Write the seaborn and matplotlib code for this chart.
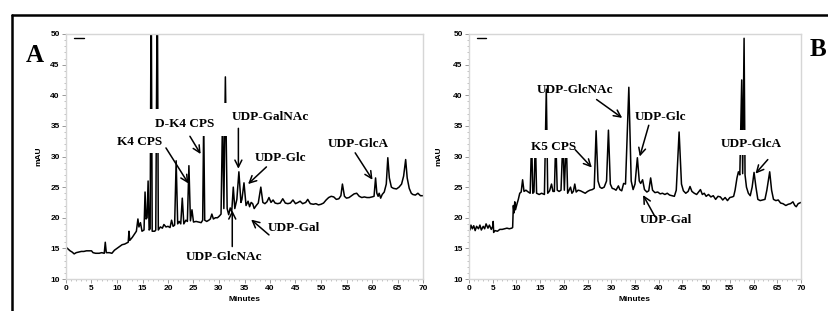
import matplotlib
matplotlib.use("Agg")
import matplotlib.pyplot as plt
from matplotlib.lines import Line2D
from matplotlib.patches import Rectangle
from matplotlib.ticker import MultipleLocator
import seaborn as sns
import pandas as pd

# ---------------- data ----------------
time_a = [0, 0.4, 0.8, 1.2, 1.6, 2.0, 2.5, 3.0, 3.5, 4.0, 4.5, 5.0, 5.3, 5.8, 6.5, 7.0, 7.5, 7.7, 7.9, 8.5,
          9.0, 9.5, 10.0, 10.5, 11.0, 11.5, 12.0, 12.2, 12.35, 12.5, 13.0, 13.4, 13.8, 14.1, 14.3, 14.6, 14.9, 15.3, 15.5, 15.7,
          15.9, 16.1, 16.3, 16.5, 16.7, 16.9, 17.4, 17.6, 17.9, 18.1, 18.5, 18.9, 19.2, 19.6, 20.0, 20.4, 20.7, 21.0, 21.3, 21.6,
          21.9, 22.2, 22.5, 22.8, 23.1, 23.5, 23.8, 24.1, 24.4, 24.7, 25.0, 25.5, 26.0, 26.5, 26.8, 27.0, 27.2, 27.6, 28.0, 28.3,
          28.6, 28.9, 29.3, 29.7, 30.1, 30.4, 30.7, 30.95, 31.25, 31.6, 31.9, 32.2, 32.5, 32.8, 33.1, 33.5, 33.9, 34.3, 34.5, 34.9,
          35.3, 35.7, 36.0, 36.3, 36.6, 36.9, 37.3, 37.7, 38.2, 38.6, 39.0, 39.4, 39.8, 40.2, 40.6, 41.0, 41.5, 42.0, 42.5, 43.0,
          43.5, 44.0, 44.5, 45.0, 45.5, 45.9, 46.4, 47.0, 47.4, 47.9, 48.5, 49.0, 49.5, 50.0, 50.5, 51.0, 51.5, 52.0, 52.5, 53.0,
          53.5, 53.9, 54.2, 54.6, 55.0, 55.5, 56.0, 56.5, 57.0, 57.5, 58.0, 58.5, 59.0, 59.5, 60.0, 60.4, 60.7, 60.95, 61.2, 61.4,
          61.7, 62.0, 62.4, 62.8, 63.1, 63.4, 63.8, 64.2, 64.8, 65.3, 65.8, 66.2, 66.6, 66.9, 67.3, 67.7, 68.0, 68.5, 69.0, 69.5, 70.0]
mau_a = [15.2, 14.9, 14.6, 14.4, 14.1, 14.3, 14.4, 14.5, 14.5, 14.6, 14.6, 14.6, 14.3, 14.2, 14.2, 14.3, 14.2, 16.0, 14.3, 14.3,
         14.2, 14.7, 15.0, 15.3, 15.6, 15.7, 15.9, 16.0, 17.8, 16.3, 16.8, 17.3, 17.8, 19.8, 18.5, 19.2, 17.8, 18.0, 24.2, 19.8,
         20.0, 26.0, 18.0, 18.2, 60.0, 17.8, 17.8, 18.0, 60.0, 18.0, 18.5, 18.3, 18.9, 18.5, 18.6, 18.4, 19.6, 18.6, 18.8, 29.3,
         19.0, 19.4, 19.0, 23.2, 19.0, 19.6, 19.4, 28.5, 19.5, 21.3, 19.3, 19.4, 19.3, 19.2, 19.6, 36.0, 19.6, 19.4, 19.6, 19.8,
         20.6, 19.8, 20.0, 20.0, 20.3, 20.6, 37.0, 21.5, 43.0, 21.5, 20.5, 21.6, 21.0, 25.0, 21.5, 23.0, 27.5, 22.5, 23.0, 25.7,
         22.0, 22.7, 21.8, 22.5, 22.3, 21.5, 22.0, 22.4, 25.0, 22.5, 22.3, 22.6, 23.3, 22.5, 22.9, 22.4, 22.3, 22.4, 23.1, 22.4,
         22.3, 22.4, 22.9, 22.3, 22.5, 22.7, 22.3, 22.5, 23.0, 22.3, 22.2, 22.3, 22.1, 22.2, 22.4, 22.9, 23.3, 23.5, 23.4, 23.0,
         23.1, 23.6, 25.5, 23.5, 23.2, 23.3, 23.6, 23.9, 24.0, 23.5, 23.3, 23.4, 23.3, 23.3, 23.4, 23.5, 26.5, 24.0, 23.5, 24.0,
         23.2, 23.8, 24.2, 25.5, 29.8, 26.5, 25.0, 24.8, 24.7, 25.0, 25.5, 26.8, 29.5, 26.5, 24.8, 24.0, 23.8, 23.7, 24.0, 23.6, 23.6]

time_b = [0, 0.2, 0.4, 0.7, 1.0, 1.3, 1.6, 2.0, 2.3, 2.6, 3.0, 3.3, 3.6, 4.0, 4.3, 4.7, 5.0, 5.1, 5.2, 5.5,
          6.0, 6.5, 7.0, 7.5, 8.0, 8.5, 9.0, 9.2, 9.35, 9.5, 9.65, 9.8, 10.1, 10.4, 10.7, 11.0, 11.3, 11.6, 12.0, 12.5,
          12.9, 13.2, 13.45, 13.7, 14.0, 14.25, 14.8, 15.3, 15.9, 16.3, 16.6, 17.0, 17.4, 17.7, 18.0, 18.3, 18.6, 19.0, 19.4, 19.8,
          20.1, 20.5, 20.8, 21.1, 21.4, 21.7, 22.0, 22.3, 22.6, 23.0, 23.5, 24.0, 24.5, 25.0, 25.5, 26.0, 26.4, 26.8, 27.2, 27.6,
          28.0, 28.5, 29.0, 29.4, 29.8, 30.2, 30.6, 31.0, 31.5, 31.8, 32.2, 32.6, 33.0, 33.7, 34.2, 34.6, 35.0, 35.5, 35.9, 36.2,
          36.6, 37.0, 37.5, 37.9, 38.3, 38.7, 39.2, 39.8, 40.3, 40.8, 41.3, 41.8, 42.3, 42.8, 43.3, 43.7, 44.3, 44.8, 45.2, 45.7,
          46.2, 46.6, 47.0, 47.5, 48.0, 48.5, 48.8, 49.2, 49.6, 50.0, 50.5, 51.0, 51.5, 52.0, 52.5, 53.0, 53.5, 54.0, 54.5, 55.0,
          55.5, 55.8, 56.1, 56.5, 56.8, 57.1, 57.5, 57.7, 58.0, 58.2, 58.5, 58.9, 59.3, 59.7, 60.1, 60.5, 60.9, 61.4, 61.9, 62.4,
          62.8, 63.4, 63.8, 64.2, 64.7, 65.2, 65.7, 66.2, 66.8, 67.3, 67.8, 68.3, 68.7, 69.0, 69.4, 70.0]
mau_b = [18.5, 18.0, 18.8, 18.2, 18.7, 17.9, 18.6, 18.2, 18.8, 18.0, 18.6, 18.2, 19.0, 18.3, 18.8, 18.1, 18.6, 19.4, 17.6, 17.9,
         17.8, 18.1, 18.1, 18.2, 18.3, 18.2, 18.3, 18.4, 22.0, 20.8, 22.6, 21.3, 22.2, 23.0, 24.0, 24.2, 26.2, 24.3, 24.5, 24.2,
         24.0, 33.0, 24.0, 24.2, 33.0, 24.0, 23.8, 24.0, 23.8, 41.0, 24.0, 24.4, 25.5, 24.3, 24.3, 33.0, 24.5, 24.3, 24.5, 33.0,
         24.5, 33.0, 24.0, 24.5, 25.0, 24.0, 24.3, 25.5, 24.2, 24.5, 24.4, 24.2, 24.0, 24.3, 24.5, 24.6, 24.8, 34.2, 26.0, 25.0,
         24.8, 25.0, 26.0, 34.3, 25.5, 24.8, 24.7, 24.5, 25.2, 24.6, 24.4, 25.6, 25.5, 41.3, 26.0, 24.6, 25.5, 29.8, 26.0, 25.6,
         26.2, 24.6, 24.2, 24.4, 26.5, 24.5, 24.1, 24.2, 23.9, 24.0, 23.8, 24.0, 23.7, 23.6, 23.5, 24.5, 34.0, 25.5, 24.4, 24.0,
         24.3, 25.1, 24.3, 24.0, 23.8, 24.3, 24.6, 23.8, 24.0, 23.5, 23.8, 23.4, 23.6, 23.0, 23.5, 23.4, 22.9, 23.3, 22.8, 23.3,
         23.4, 23.5, 24.5, 26.5, 27.5, 27.0, 42.5, 27.2, 49.3, 27.0, 25.0, 24.0, 23.6, 25.0, 27.4, 25.0, 23.0, 22.8, 22.9, 23.0,
         24.5, 27.5, 24.5, 23.0, 22.8, 22.9, 22.4, 22.3, 22.0, 22.2, 22.3, 22.6, 22.0, 21.8, 22.3, 22.5]

panel_letters = ["A", "B"]
x_ticks = list(range(0, 71, 5))
y_ticks = list(range(10, 51, 5))

labels_a = ["K4 CPS", "D-K4 CPS", "UDP-GalNAc", "UDP-Glc", "UDP-Gal", "UDP-GlcNAc", "UDP-GlcA"]
text_pos_a = [(14.5, 32.4), (23.2, 35.3), (40.0, 36.4), (42.0, 29.8), (44.6, 18.3), (30.9, 13.6), (57.3, 32.0)]
arrow_tail_a = [(19.6, 31.4), (24.3, 33.3), (33.8, 34.6), (39.3, 28.3), (39.8, 17.2), (32.6, 15.3), (56.7, 30.6)]
arrow_head_a = [(24.0, 25.6), (26.4, 30.4), (33.8, 28.0), (35.7, 25.5), (36.3, 19.7), (32.6, 21.2), (60.1, 26.2)]

labels_b = ["UDP-GlcNAc", "UDP-Glc", "K5 CPS", "UDP-Gal", "UDP-GlcA"]
text_pos_b = [(22.3, 40.9), (40.4, 36.5), (17.9, 31.6), (41.6, 19.6), (59.5, 32.1)]
arrow_tail_b = [(26.9, 39.3), (37.9, 35.1), (22.4, 31.1), (39.2, 20.2), (63.0, 29.5)]
arrow_head_b = [(32.3, 36.3), (36.0, 30.0), (25.9, 28.2), (36.7, 23.7), (60.4, 27.2)]

# white label boxes that hide parts of peaks (x0, x1, y0, y1)
masks_a = [(16.2, 18.5, 30.6, 37.75), (26.5, 32.0, 33.4, 38.8)]
masks_b = [(12.5, 21.5, 29.8, 34.3), (55.5, 59.5, 30.2, 34.3)]

# ---------------- figure ----------------
sns.set_style("white")
plt.rcParams["text.color"] = "black"
plt.rcParams["axes.labelcolor"] = "black"
plt.rcParams["xtick.color"] = "black"
plt.rcParams["ytick.color"] = "black"

fig = plt.figure(figsize=(8.29, 3.11), dpi=100)

W, H = 829, 311
def ax_rect(l, r, t, b):
    return [l / W, 1 - b / H, (r - l) / W, (b - t) / H]

axA = fig.add_axes(ax_rect(66, 423, 34, 279))
axB = fig.add_axes(ax_rect(469, 801, 34, 279))

tick_font = dict(family="Liberation Sans", weight="bold", size=6)
ann_font = dict(family="Liberation Serif", weight="bold", size=9.5)

def style(ax, labelpad):
    ax.set_xlim(0, 70)
    ax.set_ylim(10, 50)
    ax.set_xticks(x_ticks)
    ax.set_yticks(y_ticks)
    ax.xaxis.set_minor_locator(MultipleLocator(1))
    ax.yaxis.set_minor_locator(MultipleLocator(1))
    ax.set_xticklabels([str(v) for v in x_ticks], color="black", **tick_font)
    ax.set_yticklabels([str(v) for v in y_ticks], color="black", **tick_font)
    ax.tick_params(which="major", length=3, width=0.6, color="#888888", pad=1.5, direction="out",
                   bottom=True, left=True)
    ax.tick_params(which="minor", length=1.5, width=0.5, color="#aaaaaa", bottom=True, left=True)
    for s in ax.spines.values():
        s.set_color("#d6d6d6")
        s.set_linewidth(1.0)
    ax.set_xlabel("Minutes", labelpad=3, color="black", **tick_font)
    ax.set_ylabel("mAU", labelpad=labelpad, color="black", **tick_font)
    ax.grid(False)

def draw(ax, t, v, labels, tpos, tails, heads, masks):
    df = pd.DataFrame({"Minutes": t, "mAU": v})
    sns.lineplot(data=df, x="Minutes", y="mAU", ax=ax, color="black", lw=1.1,
                 estimator=None, sort=False, zorder=2)
    for (x0, x1, y0, y1) in masks:
        ax.add_patch(Rectangle((x0, y0), x1 - x0, y1 - y0, facecolor="white",
                               edgecolor="none", zorder=3))
    ax.plot([1.6, 3.5], [49.4, 49.4], color="black", lw=1.0, zorder=4)
    for lab, (x, y) in zip(labels, tpos):
        ax.text(x, y, lab, ha="center", va="center", zorder=5, color="black", **ann_font)
    for (xt, yt), (xh, yh) in zip(tails, heads):
        ax.annotate("", xy=(xh, yh), xytext=(xt, yt), zorder=5,
                    arrowprops=dict(arrowstyle="->,head_length=0.5,head_width=0.25",
                                    lw=1.1, color="black", shrinkA=0, shrinkB=0))

draw(axA, time_a, mau_a, labels_a, text_pos_a, arrow_tail_a, arrow_head_a, masks_a)
draw(axB, time_b, mau_b, labels_b, text_pos_b, arrow_tail_b, arrow_head_b, masks_b)
style(axA, 6)
style(axB, 8)

# outer frame
fig.add_artist(Line2D([12 / W, 12 / W], [0, 1 - 15 / H], color="black", lw=1.8, transform=fig.transFigure))
fig.add_artist(Line2D([12 / W, 1.0], [1 - 15 / H, 1 - 15 / H], color="black", lw=1.8, transform=fig.transFigure))

# panel letters
fig.text(35 / W, 1 - 56 / H, panel_letters[0], ha="center", va="center", color="black",
         family="Liberation Serif", weight="bold", size=18)
fig.text(818 / W, 1 - 50 / H, panel_letters[1], ha="center", va="center", color="black",
         family="Liberation Serif", weight="bold", size=18)

fig.savefig("out.png", dpi=100)
